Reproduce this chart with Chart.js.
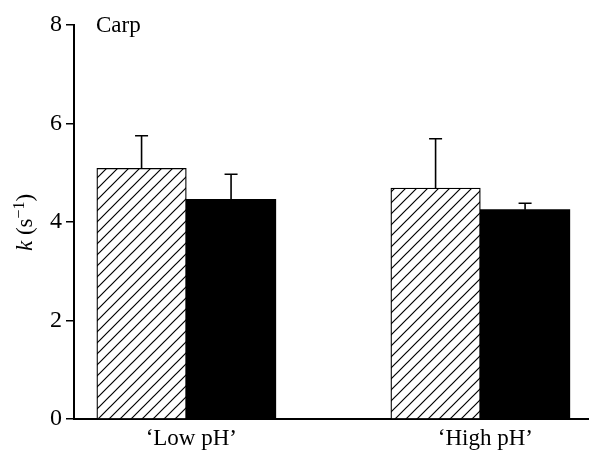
<!DOCTYPE html>
<html><head><meta charset="utf-8">
<script src="https://cdn.jsdelivr.net/npm/chart.js@4"></script>
<style>html,body{margin:0;padding:0;background:#fff;}</style>
</head><body>
<canvas id="c" width="589" height="450"></canvas>
<script>
const categories = ["\u2018Low pH\u2019", "\u2018High pH\u2019"];
const categoryPositions = [1, 2];
const hatchedValues = [5.09, 4.69];
const hatchedErrors = [0.66, 1.00];
const solidValues = [4.46, 4.25];
const solidErrors = [0.51, 0.13];
const yTicks = [0, 2, 4, 6, 8];
const panelLabel = "Carp";

const SERIF = '"Liberation Serif", "Times New Roman", serif';

function makeHatch() {
  const s = 11;
  const p = document.createElement('canvas');
  p.width = s; p.height = s;
  const g = p.getContext('2d');
  g.fillStyle = '#fff'; g.fillRect(0, 0, s, s);
  g.strokeStyle = '#000'; g.lineWidth = 1.2;
  g.beginPath();
  g.moveTo(-1, s + 1); g.lineTo(s + 1, -1);
  g.moveTo(-2, 2); g.lineTo(2, -2);
  g.moveTo(s - 2, s + 2); g.lineTo(s + 2, s - 2);
  g.stroke();
  return g.createPattern(p, 'repeat');
}

const errorPlugin = {
  id: 'errorBars',
  afterDatasetsDraw(chart) {
    const ctx = chart.ctx;
    const ys = chart.scales.y;
    chart.data.datasets.forEach((ds, i) => {
      const meta = chart.getDatasetMeta(i);
      meta.data.forEach((el, j) => {
        const v = ds.data[j].y;
        const e = ds.errors[j];
        const yTop = ys.getPixelForValue(v);
        const yCap = ys.getPixelForValue(v + e);
        ctx.save();
        ctx.strokeStyle = '#000';
        ctx.lineWidth = 1.6;
        ctx.beginPath();
        ctx.moveTo(el.x, yTop);
        ctx.lineTo(el.x, yCap);
        ctx.moveTo(el.x - 6.5, yCap);
        ctx.lineTo(el.x + 6.5, yCap);
        ctx.stroke();
        ctx.restore();
      });
    });
  }
};

const textPlugin = {
  id: 'texts',
  afterDraw(chart) {
    const ctx = chart.ctx;
    ctx.save();
    ctx.fillStyle = '#000';
    ctx.textBaseline = 'alphabetic';
    ctx.textAlign = 'left';
    ctx.font = '23px ' + SERIF;
    ctx.fillText(panelLabel, 96, 32);
    ctx.restore();

    // y axis title: k (s^-1)
    ctx.save();
    ctx.fillStyle = '#000';
    ctx.textBaseline = 'alphabetic';
    ctx.textAlign = 'left';
    ctx.translate(32, 251);
    ctx.rotate(-Math.PI / 2);
    let x = 0;
    ctx.font = 'italic 23px ' + SERIF;
    ctx.fillText('k', x, 0); x += ctx.measureText('k').width;
    ctx.font = '23px ' + SERIF;
    ctx.fillText(' (s', x, 0); x += ctx.measureText(' (s').width;
    ctx.font = '16px ' + SERIF;
    ctx.fillText('\u22121', x, -8.5); x += ctx.measureText('\u22121').width;
    ctx.font = '23px ' + SERIF;
    ctx.fillText(')', x, 0);
    ctx.restore();
  }
};

new Chart(document.getElementById('c'), {
  type: 'bar',
  data: {
    datasets: [
      {
        data: categoryPositions.map((x, i) => ({ x: x, y: hatchedValues[i] })),
        errors: hatchedErrors,
        backgroundColor: makeHatch(),
        borderColor: '#000',
        borderWidth: 1.3,
        barThickness: 89.5
      },
      {
        data: categoryPositions.map((x, i) => ({ x: x, y: solidValues[i] })),
        errors: solidErrors,
        backgroundColor: '#000',
        borderWidth: 0,
        barThickness: 89.5
      }
    ]
  },
  options: {
    responsive: false,
    animation: false,
    devicePixelRatio: 1,
    layout: { padding: { top: 25, left: 0, right: 0, bottom: 0 } },
    plugins: { legend: { display: false }, tooltip: { enabled: false } },
    scales: {
      x: {
        type: 'linear',
        offset: false,
        min: 0.618,
        max: 2.3696,
        afterBuildTicks: (axis) => { axis.ticks = categoryPositions.map(v => ({ value: v })); },
        afterFit: (s) => { s.height = 31; },
        grid: { display: false, drawTicks: false, offset: false },
        border: { display: true, color: '#000', width: 2 },
        ticks: {
          autoSkip: false, maxRotation: 0, padding: 6, labelOffset: 5,
          color: '#000', font: { family: SERIF, size: 23 },
          callback: (v, i) => categories[i]
        }
      },
      y: {
        min: 0, max: 8,
        afterBuildTicks: (axis) => { axis.ticks = yTicks.map(v => ({ value: v })); },
        afterFit: (s) => { s.width = 74; },
        grid: { drawOnChartArea: false, drawTicks: true, tickLength: 8, color: '#000', lineWidth: 1.5 },
        border: { display: true, color: '#000', width: 2 },
        ticks: { padding: 4, color: '#000', font: { family: SERIF, size: 24 } }
      }
    }
  },
  plugins: [errorPlugin, textPlugin]
});
</script>
</body></html>
